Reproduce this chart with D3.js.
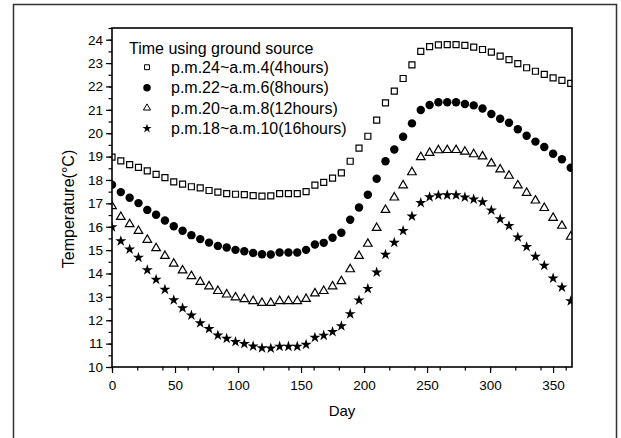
<!DOCTYPE html>
<html>
<head>
<meta charset="utf-8">
<script src="https://cdn.jsdelivr.net/npm/d3@7"></script>
<style>
  body { margin: 0; background: #fff; }
  text { font-family: 'Liberation Sans', Arial, sans-serif; fill: #000; }
</style>
</head>
<body>
<script>
const days = [0, 7, 14, 21, 28, 35, 42, 49, 56, 63, 70, 77, 84, 91, 98, 105, 112, 119, 126,
              133, 140, 147, 154, 161, 168, 175, 182, 189, 196, 203, 210, 217, 224, 231, 238,
              245, 252, 259, 266, 273, 280, 287, 294, 301, 308, 315, 322, 329, 336, 343, 350,
              357, 364];

const hours4 = [18.98, 18.82, 18.66, 18.54, 18.39, 18.24, 18.10, 17.92, 17.82, 17.71, 17.66, 17.55,
                17.48, 17.42, 17.39, 17.37, 17.33, 17.31, 17.32, 17.42, 17.42, 17.42, 17.50, 17.78,
                17.90, 18.08, 18.30, 18.80, 19.36, 19.87, 20.56, 21.30, 21.80, 22.34, 22.92, 23.50,
                23.70, 23.78, 23.79, 23.79, 23.76, 23.68, 23.58, 23.47, 23.30, 23.15, 22.98, 22.80,
                22.65, 22.52, 22.37, 22.26, 22.13];

const hours8 = [17.80, 17.48, 17.24, 17.01, 16.72, 16.51, 16.27, 16.02, 15.83, 15.64, 15.47, 15.32,
                15.18, 15.11, 15.01, 14.95, 14.88, 14.82, 14.81, 14.90, 14.90, 14.90, 15.01, 15.24,
                15.31, 15.53, 15.74, 16.30, 16.82, 17.37, 18.05, 18.80, 19.30, 19.85, 20.42, 20.99,
                21.21, 21.32, 21.32, 21.32, 21.25, 21.19, 21.06, 20.82, 20.62, 20.45, 20.17, 19.89,
                19.64, 19.41, 19.12, 18.89, 18.52];

const hours12 = [16.88, 16.42, 16.11, 15.82, 15.44, 15.08, 14.75, 14.42, 14.13, 13.89, 13.64, 13.45,
                 13.25, 13.10, 12.98, 12.90, 12.82, 12.74, 12.74, 12.82, 12.82, 12.82, 12.91, 13.15,
                 13.25, 13.45, 13.67, 14.18, 14.75, 15.27, 15.95, 16.72, 17.25, 17.77, 18.33, 18.98,
                 19.16, 19.27, 19.28, 19.28, 19.21, 19.10, 19.01, 18.71, 18.45, 18.18, 17.77, 17.45,
                 17.12, 16.80, 16.38, 16.04, 15.57];

const hours16 = [15.99, 15.39, 15.03, 14.68, 14.15, 13.74, 13.31, 12.86, 12.52, 12.21, 11.88, 11.63,
                 11.36, 11.22, 11.08, 10.99, 10.89, 10.81, 10.80, 10.88, 10.88, 10.88, 10.96, 11.26,
                 11.35, 11.51, 11.75, 12.27, 12.85, 13.35, 14.05, 14.81, 15.32, 15.83, 16.45, 17.02,
                 17.27, 17.34, 17.35, 17.35, 17.26, 17.17, 17.06, 16.70, 16.33, 16.04, 15.55, 15.14,
                 14.72, 14.34, 13.79, 13.41, 12.82];

const seriesNames = ['p.m.24~a.m.4(4hours)', 'p.m.22~a.m.6(8hours)',
                     'p.m.20~a.m.8(12hours)', 'p.m.18~a.m.10(16hours)'];
const legendTitle = 'Time using ground source';
const xTicks = [0, 50, 100, 150, 200, 250, 300, 350];
const yTicks = [10, 11, 12, 13, 14, 15, 16, 17, 18, 19, 20, 21, 22, 23, 24];

const svgWidth = 621;
const svgHeight = 438;
const plot = { left: 112, right: 572, top: 28, bottom: 367 };

const svg = d3.select('body')
              .append('svg')
              .attr('width', svgWidth)
              .attr('height', svgHeight);

// outer frame of the scanned figure
svg.append('rect')
   .attr('x', 13.5)
   .attr('y', 4.5)
   .attr('width', 603)
   .attr('height', 460)
   .attr('fill', 'none')
   .attr('stroke', '#333')
   .attr('stroke-width', 1.5);

const scaleX = d3.scaleLinear()
                 .domain([0, 365])
                 .range([plot.left, plot.right]);

const scaleY = d3.scaleLinear()
                 .domain([10, 24.5])
                 .range([plot.bottom, plot.top]);

// symbols: open square, filled circle, open triangle, filled star
const styles = [
  { type: d3.symbolSquare,   size: 36, legendSize: 24, fill: 'none',  stroke: '#000' },
  { type: d3.symbolCircle,   size: 56, legendSize: 44, fill: '#000', stroke: 'none' },
  { type: d3.symbolTriangle, size: 32, legendSize: 22, fill: 'none',  stroke: '#000' },
  { type: d3.symbolStar,     size: 38, legendSize: 26, fill: '#000', stroke: 'none' }
];

const series = [hours4, hours8, hours12, hours16];

// axes
svg.append('g')
   .attr('transform', `translate(0,${plot.bottom})`)
   .call(d3.axisBottom(scaleX).tickValues(xTicks).tickSize(6).tickPadding(7).tickSizeOuter(0));
svg.append('g')
   .attr('transform', `translate(0,${plot.bottom})`)
   .call(d3.axisBottom(scaleX).ticks(15).tickSize(3.5).tickFormat('').tickSizeOuter(0));

svg.append('g')
   .attr('transform', `translate(${plot.left},0)`)
   .call(d3.axisLeft(scaleY).tickValues(yTicks).tickSize(6).tickPadding(3).tickSizeOuter(0));
svg.append('g')
   .attr('transform', `translate(${plot.left},0)`)
   .call(d3.axisLeft(scaleY).ticks(29).tickSize(3.5).tickFormat('').tickSizeOuter(0));

svg.selectAll('.domain').remove();
svg.selectAll('.tick line').attr('stroke', '#000').attr('stroke-width', 1.2);
svg.selectAll('.tick text').style('font-size', '13.5px').attr('fill', '#000');

// points
svg.append('clipPath')
   .attr('id', 'plotClip')
   .append('rect')
   .attr('x', plot.left)
   .attr('y', plot.top)
   .attr('width', plot.right - plot.left)
   .attr('height', plot.bottom - plot.top);

const pointsLayer = svg.append('g').attr('clip-path', 'url(#plotClip)');

series.forEach((values, i) => {
  const st = styles[i];
  pointsLayer.append('g')
             .selectAll('path')
             .data(days)
             .enter()
             .append('path')
             .attr('transform', (d, j) => `translate(${scaleX(d)},${scaleY(values[j])})`)
             .attr('d', d3.symbol().type(st.type).size(st.size))
             .attr('fill', st.fill)
             .attr('stroke', st.stroke)
             .attr('stroke-width', 1.2);
});

// plot frame
svg.append('rect')
   .attr('x', plot.left)
   .attr('y', plot.top)
   .attr('width', plot.right - plot.left)
   .attr('height', plot.bottom - plot.top)
   .attr('fill', 'none')
   .attr('stroke', '#000')
   .attr('stroke-width', 1.6);

// axis titles
svg.append('text')
   .attr('x', (plot.left + plot.right) / 2)
   .attr('y', 416)
   .attr('text-anchor', 'middle')
   .style('font-size', '15px')
   .text('Day');

svg.append('text')
   .attr('transform', 'translate(74,209) rotate(-90)')
   .attr('text-anchor', 'middle')
   .style('font-size', '16px')
   .text('Temperature(°C)');

// legend
svg.append('text')
   .attr('x', 129)
   .attr('y', 53.5)
   .style('font-size', '16px')
   .text(legendTitle);

const legendRows = [72.7, 93.2, 113.5, 134];

seriesNames.forEach((name, i) => {
  const st = styles[i];
  svg.append('path')
     .attr('transform', `translate(147,${legendRows[i] - 5.5})`)
     .attr('d', d3.symbol().type(st.type).size(st.legendSize))
     .attr('fill', st.fill)
     .attr('stroke', st.stroke)
     .attr('stroke-width', 1);

  svg.append('text')
     .attr('x', 171)
     .attr('y', legendRows[i])
     .style('font-size', '16px')
     .text(name);
});
</script>
</body>
</html>
